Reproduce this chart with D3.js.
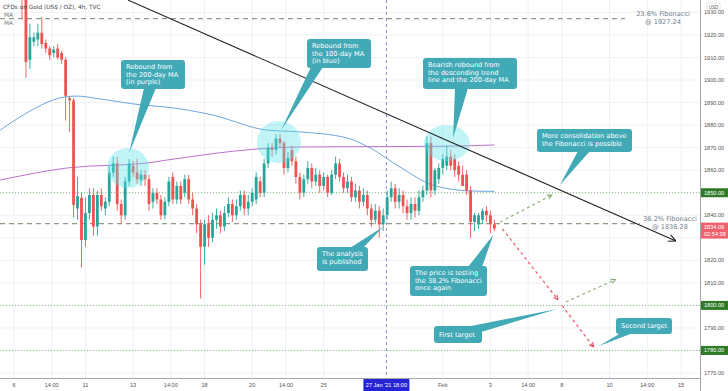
<!DOCTYPE html>
<html>
<head>
<meta charset="utf-8">
<title>Gold 4h</title>
<style>
body { margin: 0; background: #fff; }
svg { display: block; font-family: "DejaVu Sans", sans-serif; }
.ax { font-family: "Liberation Sans", Arial, sans-serif; font-size: 5.6px; fill: #555; }
</style>
<script src="https://cdnjs.cloudflare.com/ajax/libs/d3/7.8.5/d3.min.js"></script>
</head>
<body>
<svg id="chart" width="728" height="391"></svg>
<script>
// 4h bars, index 0 = 6 Jan 00:00, 6 bars per trading day
var barStart = -3;
var barOpen  = [1945,1949,1952,1955,1951,1944,1940,1909,1917,1918,1921,1916.5,1914,1912,1914,1912,1909,1892,1891,1843,1847.7,1829,1841,1849,1835,1849,1843,1846,1859,1863,1845,1840,1855,1862,1859,1855.5,1858,1856,1846,1850,1847,1840,1846,1857,1847,1853,1850,1856,1847,1843,1836,1826,1836,1830,1838,1840,1835,1841,1845,1840,1844,1849,1843,1846,1847,1855,1850,1863,1870,1869,1874,1872,1861,1869,1864,1857,1850,1856,1861,1855,1858,1853,1857,1850,1858,1863,1857,1852,1855,1848,1851,1846,1849,1843,1838,1842,1836,1840,1848,1852,1846,1849,1844,1841,1845,1842,1848,1851,1872,1851,1856,1861,1862,1866,1865,1862,1858,1858,1851,1837,1836,1838,1842,1840,1836];
var barHigh  = [1952,1956,1959,1960,1954,1948,1942,1925,1921,1925,1928,1918,1915,1915,1916,1913,1910,1893,1892,1857,1850,1848,1852,1852,1851,1852,1848,1862,1866,1866,1847,1857,1865,1864,1865,1860,1860,1858,1852,1852,1849,1848,1857,1859,1855,1855,1858,1858,1850,1845,1838,1838,1840,1841,1843,1842,1844,1848,1847,1847,1851,1851,1849,1852,1859,1857,1865,1872,1872,1876,1876,1873,1868,1871,1866,1859,1858,1864,1863,1861,1860,1859,1858,1860,1866,1865,1859,1858,1857,1854,1853,1852,1851,1845,1845,1844,1843,1851,1855,1854,1852,1851,1847,1848,1848,1851,1853,1875,1875,1861,1863,1867,1871,1869,1867,1864,1862,1860,1853,1841,1841,1843,1844,1842,1838];
var barLow   = [1940,1944,1948,1949,1941,1927,1901,1905,1915,1915,1914,1912,1909,1910,1909,1907,1882,1877,1839,1838,1817,1826,1838,1831,1831,1842,1840,1844,1857,1842,1836,1838,1853,1857,1854,1853,1853,1842,1843,1845,1838,1838,1844,1845,1845,1845,1848,1845,1840,1832,1803,1818,1826,1828,1834,1832,1833,1839,1837,1838,1842,1840,1840,1844,1845,1848,1848,1861,1866,1867,1870,1858,1859,1862,1854,1847,1848,1854,1852,1853,1850,1851,1848,1849,1856,1855,1850,1850,1846,1846,1843,1844,1840,1835,1836,1830,1833,1838,1846,1843,1843,1841,1838,1838,1839,1840,1846,1849,1848,1849,1854,1858,1860,1860,1857,1855,1854,1849,1830,1833,1834,1836,1837,1832,1833];
var barClose = [1949,1952,1955,1951,1944,1940,1908,1919,1919,1921,1916,1914,1911,1913.5,1910,1909,1893,1891,1844.6,1848.5,1829,1841,1849,1835,1849,1844,1846,1859,1863,1845,1840,1855,1863,1859,1856,1858,1856,1845,1850,1847,1840,1846,1855,1847,1853,1847,1856,1847,1843,1836,1826,1836,1830,1838,1840,1835,1841,1845,1840,1844,1849,1843,1846,1850,1857,1850,1863,1870,1869,1874,1872,1861,1865.5,1864,1857,1850,1856,1861,1855,1858,1853,1857,1850,1858,1863,1857,1852,1855,1848,1851,1846,1849,1843,1838,1842,1836,1840,1848,1852,1846,1849,1844,1841,1845,1842,1848,1851,1872,1851,1860,1861,1865,1866,1862,1860,1858,1853,1851,1837,1840,1840,1842,1840,1836,1834.09];

// moving averages [bar, price]
var ma100 = [[-3.5,1877.8],[1.5,1883.6],[12.8,1892.5],[15.9,1892.9],[21.7,1891.6],[32.5,1888.9],[38.5,1888],[50,1884.5],[63.7,1877.8],[72,1877],[83.9,1874.3],[89.7,1869.9],[97.2,1861.4],[105.5,1853.4],[114.8,1850.8],[121,1850.6]];
var ma200 = [[-3.5,1855.6],[13.4,1861],[33.5,1863.2],[38.5,1864.5],[61.2,1869.4],[72,1870.3],[95,1870.5],[107.3,1870.6],[121,1871.2]];

var priceTicks = [1770,1780,1790,1800,1810,1820,1830,1840,1850,1860,1870,1880,1890,1900,1910,1920,1930];
var levelPrices = [1850, 1800, 1780];
var fibPrices = [1927.24, 1836.28];
var fibNames = ["23.6% Fibonacci", "38.2% Fibonacci"];
var timeTickBars = [0, 9.5, 18, 30, 39.5, 48, 60, 68.5, 78, 108, 120, 129.5, 138, 150, 159.5, 168];
var timeTickLabels = ["6","14:00","11","13","14:00","18","20","14:00","25","Feb","3","14:00","8","10","14:00","15"];
var markerBar = 93.8;
var lastPrice = 1834.09;

var trendLine = [[28.7,1935.5],[166.7,1828.6]];
var greenPaths = [[[122.5,1837],[135.5,1849]], [[139,1801.5],[151.5,1811.5]]];
var redPaths = [[[123,1834],[137,1802.5]], [[138,1800],[146,1781.5]]];
var zones = [[28.7,1861,21,20],[66.7,1872.5,22,21],[109,1872,23,18]];

var notes = [
	{lines:["Rebound from","the 200-day MA","(in purple)"], box:[121,60,64,29], base:[[144,88],[156,88]], tip:[29,1867.6]},
	{lines:["Rebound from","the 100-day MA","(in blue)"], box:[307,39,64,29], base:[[311,67],[323,67]], tip:[67.3,1877.8]},
	{lines:["Bearish rebound from","the descending trend","line and the 200-day MA"], box:[423,58,94,31], base:[[455,88],[468,88]], tip:[110.6,1874.3]},
	{lines:["More consolidation above","the Fibonacci is possible"], box:[537,129,95,23], base:[[578,151],[590,151]], tip:[137.5,1853.4]},
	{lines:["The analysis","is published"], box:[317,247,51,24], base:[[350,248],[363,248]], tip:[92.9,1834.8]},
	{lines:["The price is testing","the 38.2% Fibonacci","once again"], box:[410,266,77,30], base:[[468,267],[482,267]], tip:[120.7,1831.2]},
	{lines:["First target"], box:[434,326,48,17], base:[[466,327],[481,332]], tip:[136.8,1798.4]},
	{lines:["Second target"], box:[616,318,56,16], base:[[621,333],[633,333]], tip:[147.3,1782]}
];

var up = '#26a69a', down = '#ef5350';
var plotRight = 700, plotBottom = 378;

var x = d3.scaleLinear().domain([0,168]).range([14,681]);
var y = d3.scaleLinear().domain([1770,1920]).range([373,35]);

var svg = d3.select('#chart');
svg.append('rect').attr('width',728).attr('height',391).attr('fill','#fff');
svg.append('defs').append('clipPath').attr('id','plot')
	.append('rect').attr('x',0).attr('y',0).attr('width',plotRight).attr('height',plotBottom);

// grid
var grid = svg.append('g');
grid.selectAll('line.h').data(priceTicks).join('line')
	.attr('x1',0).attr('x2',plotRight)
	.attr('y1',d=>y(d)).attr('y2',d=>y(d))
	.attr('stroke','#eff1f5');
grid.selectAll('line.v').data(timeTickBars).join('line')
	.attr('x1',d=>x(d)).attr('x2',d=>x(d))
	.attr('y1',0).attr('y2',plotBottom)
	.attr('stroke','#eff1f5');

var plot = svg.append('g').attr('clip-path','url(#plot)');

// horizontal levels
plot.selectAll('line.lvl').data(levelPrices).join('line')
	.attr('x1',0).attr('x2',plotRight)
	.attr('y1',d=>y(d)).attr('y2',d=>y(d))
	.attr('stroke','#8cc27c').attr('stroke-width',1).attr('stroke-dasharray','1,2');

var fibEnd = [625, 640];
var fibLabelX = [663, 670];
plot.selectAll('line.fib').data(fibPrices).join('line')
	.attr('x1',0).attr('x2',(d,k)=>fibEnd[k])
	.attr('y1',d=>y(d)).attr('y2',d=>y(d))
	.attr('stroke','#8f9c84').attr('stroke-width',1.2).attr('stroke-dasharray','5,4');

fibPrices.forEach(function(p,k){
	var cx = fibLabelX[k];
	var t = svg.append('text').attr('x',cx).attr('text-anchor','middle')
		.attr('font-size',6.6).attr('fill','#6f7f8c');
	t.append('tspan').attr('x',cx).attr('y',y(p)-2.5).text(fibNames[k]);
	t.append('tspan').attr('x',cx).attr('y',y(p)+5).text('@ ' + p.toFixed(2));
});

// marker line
plot.append('line')
	.attr('x1',x(markerBar)).attr('x2',x(markerBar)).attr('y1',0).attr('y2',plotBottom)
	.attr('stroke','#8f86d8').attr('stroke-dasharray','3,3');

// moving averages
var line = d3.line().x(d=>x(d[0])).y(d=>y(d[1])).curve(d3.curveMonotoneX);
plot.append('path').attr('d',line(ma100)).attr('fill','none').attr('stroke','#6fa6dc').attr('stroke-width',1);
plot.append('path').attr('d',line(ma200)).attr('fill','none').attr('stroke','#bb72cc').attr('stroke-width',1);

// candles
var bars = barOpen.map(function(o,k){
	return {i: barStart+k, o: o, h: barHigh[k], l: barLow[k], c: barClose[k]};
});
plot.selectAll('line.wick').data(bars).join('line')
	.attr('x1',d=>x(d.i)).attr('x2',d=>x(d.i))
	.attr('y1',d=>y(d.h)).attr('y2',d=>y(d.l))
	.attr('stroke',d=>d.c>=d.o?up:down).attr('stroke-width',0.9);
plot.selectAll('rect.body').data(bars).join('rect')
	.attr('x',d=>x(d.i)-1.4).attr('width',2.8)
	.attr('y',d=>y(Math.max(d.o,d.c)))
	.attr('height',d=>Math.max(1,Math.abs(y(d.o)-y(d.c))))
	.attr('fill',d=>d.c>=d.o?up:down);

// highlight zones
plot.selectAll('ellipse').data(zones).join('ellipse')
	.attr('cx',d=>x(d[0])).attr('cy',d=>y(d[1]))
	.attr('rx',d=>d[2]).attr('ry',d=>d[3])
	.attr('fill','rgba(90,225,235,0.38)');

// trend line
function arrowHead(g, x1, y1, x2, y2, color, len, w) {
	var a = Math.atan2(y2-y1, x2-x1);
	[0.45, -0.45].forEach(function(s){
		g.append('line').attr('x1',x2).attr('y1',y2)
			.attr('x2',x2-len*Math.cos(a+s)).attr('y2',y2-len*Math.sin(a+s))
			.attr('stroke',color).attr('stroke-width',w);
	});
}
var tl = plot.append('g');
tl.append('line')
	.attr('x1',x(trendLine[0][0])).attr('y1',y(trendLine[0][1]))
	.attr('x2',x(trendLine[1][0])).attr('y2',y(trendLine[1][1]))
	.attr('stroke','#222').attr('stroke-width',1.1);
arrowHead(tl, x(trendLine[0][0]), y(trendLine[0][1]), x(trendLine[1][0]), y(trendLine[1][1]), '#222', 8, 1.1);

// projection arrows
function dashedArrow(p, color) {
	var x1 = x(p[0][0]), y1 = y(p[0][1]), x2 = x(p[1][0]), y2 = y(p[1][1]);
	plot.append('line').attr('x1',x1).attr('y1',y1).attr('x2',x2).attr('y2',y2)
		.attr('stroke',color).attr('stroke-width',1.1).attr('stroke-dasharray','3,3');
	arrowHead(plot, x1, y1, x2, y2, color, 5, 1.1);
}
greenPaths.forEach(p=>dashedArrow(p,'#8aaa74'));
redPaths.forEach(p=>dashedArrow(p,'#ec4a5a'));

// callouts
var noteFill = '#42a9b7';
notes.forEach(function(n){
	var b = n.box;
	var g = svg.append('g');
	g.append('polygon')
		.attr('points', [n.base[0], n.base[1], [x(n.tip[0]), y(n.tip[1])]].map(p=>p.join(',')).join(' '))
		.attr('fill', noteFill);
	g.append('rect').attr('x',b[0]).attr('y',b[1]).attr('width',b[2]).attr('height',b[3])
		.attr('rx',3).attr('fill',noteFill);
	var first = n.lines.length == 1 ? b[1] + b[3]/2 + 2.4 : b[1] + 9;
	n.lines.forEach(function(s,k){
		g.append('text').attr('x',b[0]+5).attr('y',first + k*7.5)
			.attr('font-size',6.6).attr('fill','#fff').text(s);
	});
});

// axes
svg.append('line').attr('x1',0).attr('x2',plotRight).attr('y1',plotBottom+0.5).attr('y2',plotBottom+0.5).attr('stroke','#a3a6ad');
svg.append('line').attr('x1',plotRight+0.5).attr('x2',plotRight+0.5).attr('y1',0).attr('y2',391).attr('stroke','#a3a6ad');

svg.selectAll('text.pt').data(priceTicks.filter(p=>levelPrices.indexOf(p)<0 && p!=1830)).join('text')
	.attr('class','ax').attr('x',704).attr('y',d=>y(d)+2).text(d=>d.toFixed(2));

svg.selectAll('text.tt').data(timeTickBars).join('text')
	.attr('class','ax').attr('text-anchor','middle')
	.attr('x',d=>x(d)).attr('y',387).text((d,k)=>timeTickLabels[k]);

// USD tag
svg.append('rect').attr('x',707).attr('y',3).attr('width',13).attr('height',7)
	.attr('fill','#fff').attr('stroke','#ccc').attr('stroke-width',0.5);
svg.append('text').attr('class','ax').attr('x',713.5).attr('y',8.5).attr('text-anchor','middle')
	.style('font-size','4.5px').text('USD');

// level tags
levelPrices.forEach(function(p){
	svg.append('rect').attr('x',701).attr('y',y(p)-4.5).attr('width',27).attr('height',9).attr('fill','#2f7a26');
	svg.append('text').attr('class','ax').attr('x',704).attr('y',y(p)+2).style('fill','#fff').text(p.toFixed(2));
});

// last price tag
svg.append('rect').attr('x',701).attr('y',y(lastPrice)-6).attr('width',27).attr('height',16).attr('fill','#f0616e');
svg.append('text').attr('class','ax').attr('x',704).attr('y',y(lastPrice)).style('fill','#fff').text(lastPrice.toFixed(2));
svg.append('text').attr('class','ax').attr('x',704).attr('y',y(lastPrice)+7.5).style('fill','#fff').text('02:54:38');

// marker tag
svg.append('rect').attr('x',x(markerBar)-23).attr('y',379).attr('width',46).attr('height',12).attr('fill','#2525d4');
svg.append('text').attr('class','ax').attr('x',x(markerBar)).attr('y',387).attr('text-anchor','middle')
	.style('fill','#fff').text("27 Jan '21   18:00");

// header
svg.append('text').attr('x',3).attr('y',9).attr('font-size',5.8).attr('fill','#444').text('CFDs on Gold (US$ / OZ), 4h, TVC');
svg.append('text').attr('x',4).attr('y',17).attr('font-size',5.8).attr('fill','#777').text('MA');
svg.append('text').attr('x',4).attr('y',25).attr('font-size',5.8).attr('fill','#777').text('MA');
</script>
</body>
</html>
